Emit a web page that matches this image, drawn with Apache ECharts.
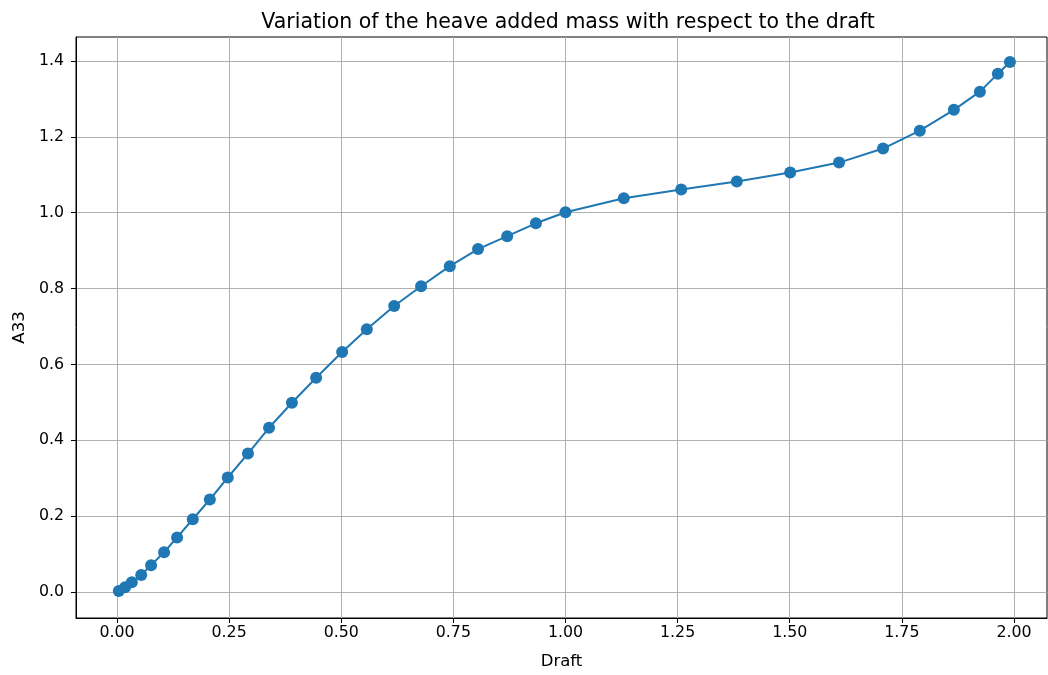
<!DOCTYPE html>
<html>
<head>
<meta charset="utf-8">
<script src="https://cdn.jsdelivr.net/npm/echarts@6/dist/echarts.min.js"></script>
<style>
  html, body { margin: 0; padding: 0; background: #fff; }
  #chart { width: 1048px; height: 675px; }
</style>
</head>
<body>
<div id="chart"></div>
<script>
// draft values (x) and heave added mass A33 (y)
const draft = [0.004, 0.018, 0.033, 0.054, 0.076, 0.105, 0.134, 0.169, 0.207, 0.247,
  0.292, 0.339, 0.390, 0.444, 0.502, 0.557, 0.618, 0.678, 0.742, 0.805,
  0.870, 0.934, 1.000, 1.130, 1.258, 1.382, 1.501, 1.610, 1.708, 1.790,
  1.866, 1.924, 1.964, 1.991]
const a33 = [0.003, 0.013, 0.026, 0.045, 0.071, 0.105, 0.144, 0.192, 0.244, 0.302,
  0.365, 0.433, 0.499, 0.565, 0.633, 0.693, 0.754, 0.806, 0.859, 0.904,
  0.938, 0.972, 1.001, 1.038, 1.061, 1.082, 1.106, 1.132, 1.169, 1.216,
  1.271, 1.319, 1.366, 1.397]
const xTicks = [0, 0.25, 0.5, 0.75, 1.0, 1.25, 1.5, 1.75, 2.0]
const yTicks = [0, 0.2, 0.4, 0.6, 0.8, 1.0, 1.2, 1.4]

const font = 'DejaVu Sans'
const chart = echarts.init(document.getElementById('chart'))
const option = {
  animation: false,
  textStyle: { fontFamily: font },
  title: {
    text: 'Variation of the heave added mass with respect to the draft',
    left: 563,
    top: 7,
    textAlign: 'center',
    textStyle: { fontFamily: font, fontSize: 20.5, fontWeight: 'normal', color: '#000' }
  },
  grid: {
    left: 76, right: 1, top: 37, bottom: 55,
    show: true, borderColor: '#000', borderWidth: 1, backgroundColor: '#fff'
  },
  xAxis: {
    type: 'value',
    min: -0.0914, max: 2.0736,
    name: 'Draft',
    nameLocation: 'middle',
    nameGap: 35,
    nameTextStyle: { fontFamily: font, fontSize: 16.5, color: '#000' },
    axisLine: { show: true, onZero: false, lineStyle: { color: '#000' } },
    axisTick: { show: true, length: 5, customValues: xTicks, lineStyle: { color: '#000' } },
    axisLabel: {
      customValues: xTicks, margin: 7, fontSize: 15.8, color: '#000', fontFamily: font,
      formatter: v => v.toFixed(2)
    },
    splitLine: { show: true, lineStyle: { color: '#b0b0b0', width: 1 } }
  },
  yAxis: {
    type: 'value',
    min: -0.0683, max: 1.463,
    name: 'A33',
    nameLocation: 'middle',
    nameGap: 48,
    nameRotate: 90,
    nameTextStyle: { fontFamily: font, fontSize: 16.5, color: '#000' },
    axisLine: { show: true, onZero: false, lineStyle: { color: '#000' } },
    axisTick: { show: true, length: 5, customValues: yTicks, lineStyle: { color: '#000' } },
    axisLabel: {
      customValues: yTicks, margin: 12, fontSize: 15.8, color: '#000', fontFamily: font,
      formatter: v => v.toFixed(1)
    },
    splitLine: { show: true, lineStyle: { color: '#b0b0b0', width: 1 } }
  },
  series: [{
    type: 'line',
    data: draft.map((d, i) => [d, a33[i]]),
    symbol: 'circle',
    symbolSize: 12,
    lineStyle: { color: '#1f77b4', width: 2 },
    itemStyle: { color: '#1f77b4' },
    z: 5
  }]
}
chart.setOption(option)
</script>
</body>
</html>
